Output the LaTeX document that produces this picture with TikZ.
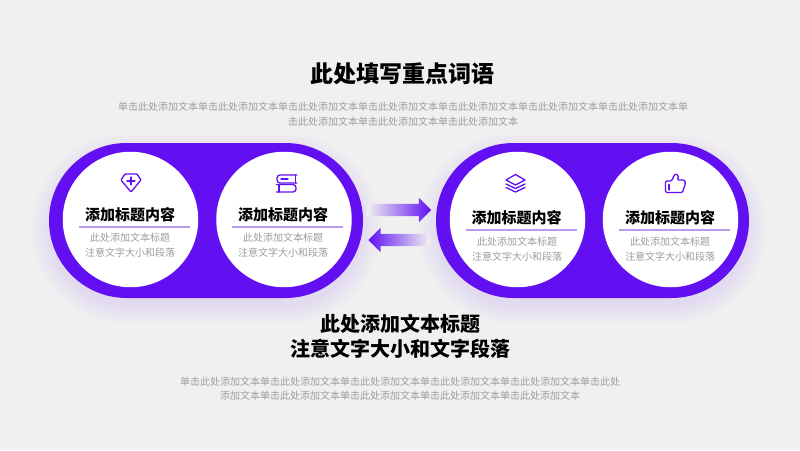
\documentclass[tikz,border=0pt]{standalone}
\usepackage{fontspec}
\setmainfont{Noto Sans CJK SC}
\usetikzlibrary{shapes.arrows}
\definecolor{bgc}{HTML}{F0F0F0}
\definecolor{pur}{HTML}{6210F2}
\definecolor{rule}{HTML}{B99CEE}
\definecolor{subc}{HTML}{9C9C9C}
\tikzset{
  x=1pt,y=-1pt,
  pill/.style={rectangle,draw=none,fill=pur,inner sep=0pt,minimum width=314pt,minimum height=155pt,rounded corners=77.5pt},
  disc/.style={circle,draw=none,fill=white,inner sep=0pt,minimum size=135.5pt},
  cardtitle/.style={inner sep=0pt,font=\fontsize{15}{18}\selectfont\bfseries,text=black},
  cardsub/.style={inner sep=0pt,align=center,font=\fontsize{10}{14.8}\selectfont,text=subc},
  divider/.style={draw=rule,line width=1.2pt},
  icon/.style={draw=pur,line width=1.3pt,line join=round,line cap=round},
  flow/.style={single arrow,draw=none,inner sep=0pt,minimum height=64pt,single arrow head extend=6pt,single arrow head indent=0pt},
}
\begin{document}
\begin{tikzpicture}
\useasboundingbox (0,0) rectangle (800,450);
\fill[bgc] (0,0) rectangle (800,450);
% soft shadows
\foreach \g in {18,15,...,0}{
  \fill[pur,opacity=0.01,rounded corners=77pt+\g pt] (49-\g,151-\g) rectangle (363+\g,306+\g);
  \fill[pur,opacity=0.01,rounded corners=77pt+\g pt] (436-\g,151-\g) rectangle (749+\g,306+\g);
}
% pills
\node[pill] (pillL) at (206,220.5) {};
\node[pill,minimum width=313pt] (pillR) at (592.5,220.5) {};
% discs
\node[disc] (d1) at (130.5,219.5) {};
\node[disc] (d2) at (284,219.5) {};
\node[disc] (d3) at (517.5,219.5) {};
\node[disc] (d4) at (670.5,219.5) {};
% main title
\node[inner sep=0pt,font=\fontsize{23}{28}\selectfont\bfseries] (title) at (402,74) {此处填写重点词语};
\node[inner sep=0pt,align=center,font=\fontsize{10}{15}\selectfont,text=subc] (intro) at (403,114.5) {单击此处添加文本单击此处添加文本单击此处添加文本单击此处添加文本单击此处添加文本单击此处添加文本单击此处添加文本单\\击此处添加文本单击此处添加文本单击此处添加文本};
% card text
\node[cardtitle] (t1) at (130,215) {添加标题内容};
\node[cardtitle] (t2) at (283,215) {添加标题内容};
\node[cardtitle] (t3) at (516.5,218) {添加标题内容};
\node[cardtitle] (t4) at (670,218) {添加标题内容};
\coordinate (r1a) at (79,227); \coordinate (r1b) at (190,227);
\coordinate (r2a) at (232,227); \coordinate (r2b) at (343,227);
\coordinate (r3a) at (466,230); \coordinate (r3b) at (577,230);
\coordinate (r4a) at (619,230); \coordinate (r4b) at (730,230);
\draw[divider] (r1a) -- (r1b);
\draw[divider] (r2a) -- (r2b);
\draw[divider] (r3a) -- (r3b);
\draw[divider] (r4a) -- (r4b);
\node[cardsub] (s1) at (130,245.5) {此处添加文本标题\\注意文字大小和段落};
\node[cardsub] (s2) at (283,245.5) {此处添加文本标题\\注意文字大小和段落};
\node[cardsub] (s3) at (517,249) {此处添加文本标题\\注意文字大小和段落};
\node[cardsub] (s4) at (670,249) {此处添加文本标题\\注意文字大小和段落};
% arrows
\node[flow,left color=bgc,right color=pur] (arrR) at (396,210) {\rule{0pt}{12pt}};
\node[flow,minimum height=61pt,shape border rotate=180,left color=pur,right color=bgc] (arrL) at (402,240) {\rule{0pt}{12pt}};
% icons
\draw[icon,rounded corners=0.8pt] (125,174) -- (137,174) -- (141,180) -- (131,192) -- (121,180) -- cycle;
\draw[icon] (127,181) -- (135,181) (131,177) -- (131,185);
\draw[icon,rounded corners=3pt] (297,175) -- (277,175) -- (277,183) -- (297,183);
\draw[icon] (295.5,175) -- (295.5,183) (281,179) -- (288,179);
\draw[icon,rounded corners=3pt] (276.5,184.5) -- (296,184.5) -- (296,192) -- (276.5,192);
\draw[icon] (279,184.5) -- (279,192);
\draw[icon] (515.5,174.5) -- (525,180) -- (515.5,185) -- (506,180) -- cycle;
\draw[icon] (506,184) -- (515.5,188.5) -- (525,184);
\draw[icon] (506,187.5) -- (515.5,192) -- (525,187.5);
\draw[icon,rounded corners=1.2pt] (665.5,181) -- (665.5,192.5) -- (682.5,192.5) -- (685.5,183) -- (684.5,180) -- (677.5,180) -- (678.5,175.5) -- (675,173.8) -- (671.5,181) -- cycle;
\draw[icon] (669,184.5) -- (669,190);
% bottom text
\node[inner sep=0pt,align=center,font=\fontsize{20}{25}\selectfont\bfseries] (head) at (400,336.5) {此处添加文本标题\\注意文字大小和文字段落};
\node[inner sep=0pt,align=center,font=\fontsize{10}{13.6}\selectfont,text=subc] (foot) at (400,388.5) {单击此处添加文本单击此处添加文本单击此处添加文本单击此处添加文本单击此处添加文本单击此处\\添加文本单击此处添加文本单击此处添加文本单击此处添加文本单击此处添加文本};
\end{tikzpicture}
\end{document}
